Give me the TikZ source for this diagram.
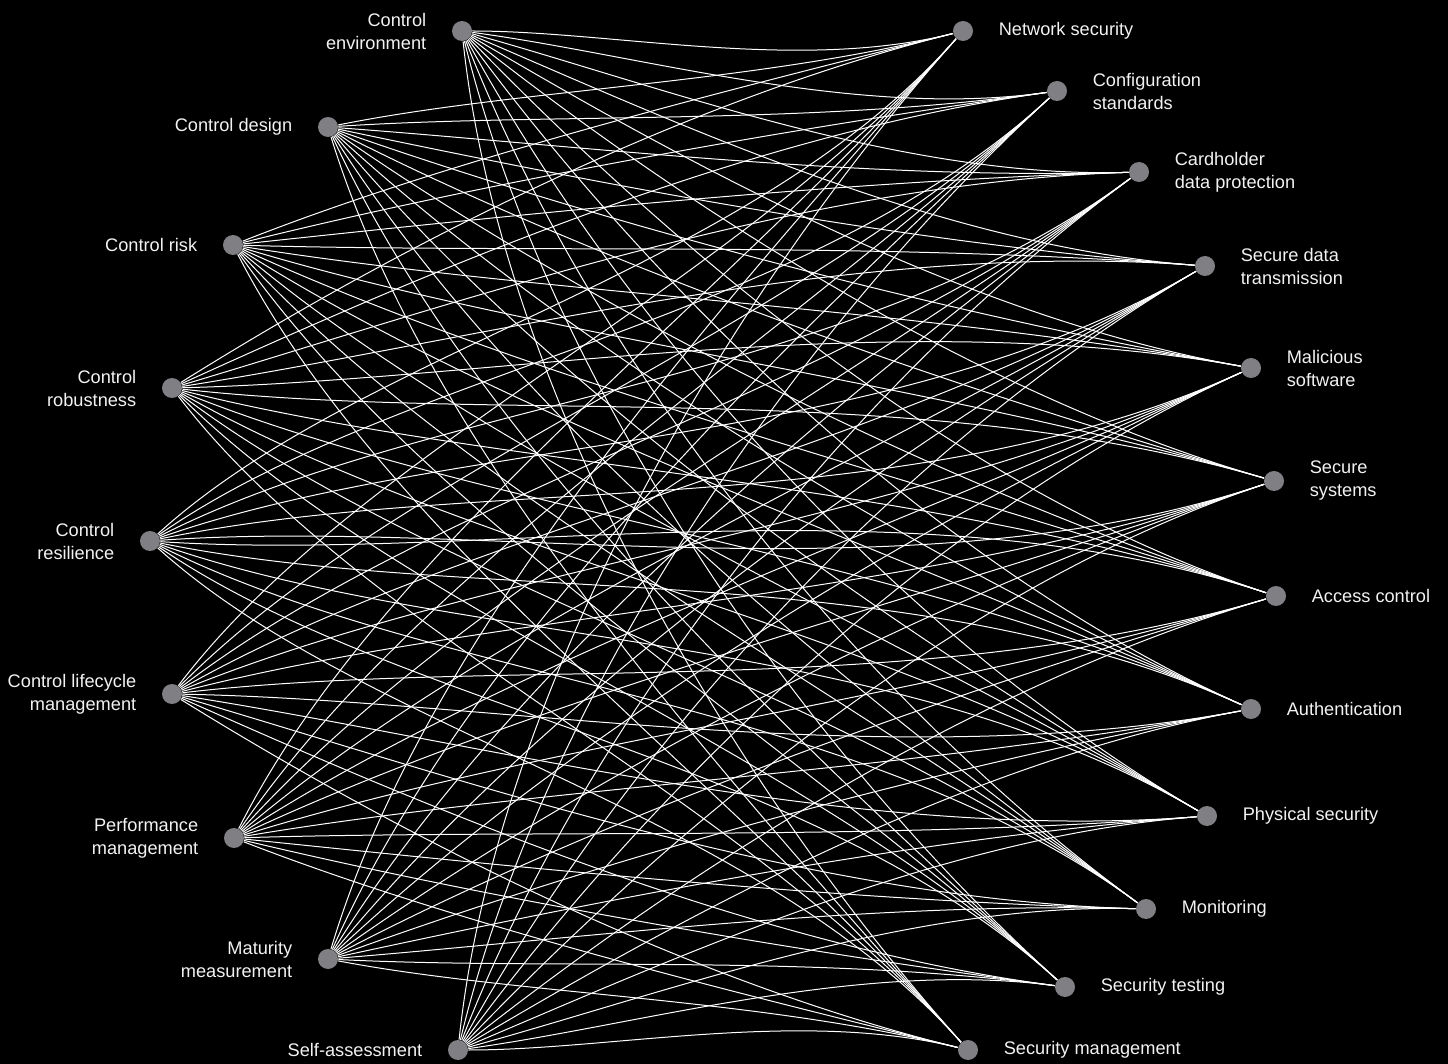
\documentclass[tikz,border=0pt]{standalone}
\usepackage{fontspec}
\setmainfont{Liberation Sans}
\usetikzlibrary{calc}
\usetikzlibrary{backgrounds}
\definecolor{dotgrey}{HTML}{808084}
\definecolor{labelwhite}{HTML}{F2F2F2}

\begin{document}
\begin{tikzpicture}[x=0.5pt, y=-0.5pt,
                    every node/.style={font=\fontsize{9.1}{11.5}\selectfont, text=labelwhite},
                    dot/.style={circle, fill=dotgrey, minimum size=10pt, inner sep=0pt},
                    lname/.style={align=right, inner sep=0pt, label distance=12.5pt},
                    rname/.style={align=left, inner sep=0pt, label distance=12.5pt},
                    link/.style={draw=white, line width=0.5pt}]

  % control side
  \node[dot, label={[lname]left:{Control\\environment}}]            (l1) at (462,31)   {};
  \node[dot, label={[lname]left:{Control design}}]                  (l2) at (328,127)  {};
  \node[dot, label={[lname]left:{Control risk}}]                    (l3) at (233,245)  {};
  \node[dot, label={[lname]left:{Control\\robustness}}]             (l4) at (172,388)  {};
  \node[dot, label={[lname]left:{Control\\resilience}}]             (l5) at (150,541)  {};
  \node[dot, label={[lname]left:{Control lifecycle\\management}}]   (l6) at (172,694)  {};
  \node[dot, label={[lname]left:{Performance\\management}}]         (l7) at (234,838)  {};
  \node[dot, label={[lname]left:{Maturity\\measurement}}]           (l8) at (328,959)  {};
  \node[dot, label={[lname]left:{Self-assessment}}]                 (l9) at (458,1050) {};

  % security side
  \node[dot, label={[rname]right:{Network security}}]               (r1)  at (963,31)   {};
  \node[dot, label={[rname]right:{Configuration\\standards}}]       (r2)  at (1057,91)  {};
  \node[dot, label={[rname]right:{Cardholder\\data protection}}]    (r3)  at (1139,172) {};
  \node[dot, label={[rname]right:{Secure data\\transmission}}]      (r4)  at (1205,266) {};
  \node[dot, label={[rname]right:{Malicious\\software}}]            (r5)  at (1251,368) {};
  \node[dot, label={[rname]right:{Secure\\systems}}]                (r6)  at (1274,481) {};
  \node[dot, label={[rname]right:{Access control}}]                 (r7)  at (1276,596) {};
  \node[dot, label={[rname]right:{Authentication}}]                 (r8)  at (1251,709) {};
  \node[dot, label={[rname]right:{Physical security}}]              (r9)  at (1207,816) {};
  \node[dot, label={[rname]right:{Monitoring}}]                     (r10) at (1146,909) {};
  \node[dot, label={[rname]right:{Security testing}}]               (r11) at (1065,987) {};
  \node[dot, label={[rname]right:{Security management}}]            (r12) at (968,1050) {};

  % where the links of one group gather
  \coordinate (g1) at (298.75,197.75);
  \coordinate (g2) at (268.4,816.4);
  \coordinate (g3) at (269,266.4);
  \coordinate (g4) at (298,885.25);

  \begin{pgfonlayer}{background}
    \fill[black] (0,0) rectangle (1448,1064);
    \foreach \i/\xi/\yi in {1/462/31, 2/328/127, 3/233/245, 4/172/388, 5/150/541,
                            6/172/694, 7/234/838, 8/328/959, 9/458/1050}
      \foreach \j/\xj/\yj in {1/963/31, 2/1057/91, 3/1139/172, 4/1205/266, 5/1251/368,
                              6/1274/481, 7/1276/596, 8/1251/709, 9/1207/816,
                              10/1146/909, 11/1065/987, 12/968/1050} {
        \pgfmathsetmacro\rot{0.32*atan2(\yi-\yj,\xj-\xi)}
        \pgfmathsetmacro\hand{0.17*veclen(\xj-\xi,\yj-\yi)}
        \pgfmathtruncatemacro\grp{\j<7 ? (\i<5 ? 1 : 2) : (\i<6 ? 3 : 4)}
        \draw[link] (l\i) .. controls ($(l\i)!0.3!\rot:(r\j)$)
                              and ($(r\j)!\hand pt!(g\grp)$) .. (r\j);
      }
  \end{pgfonlayer}

\end{tikzpicture}
\end{document}
